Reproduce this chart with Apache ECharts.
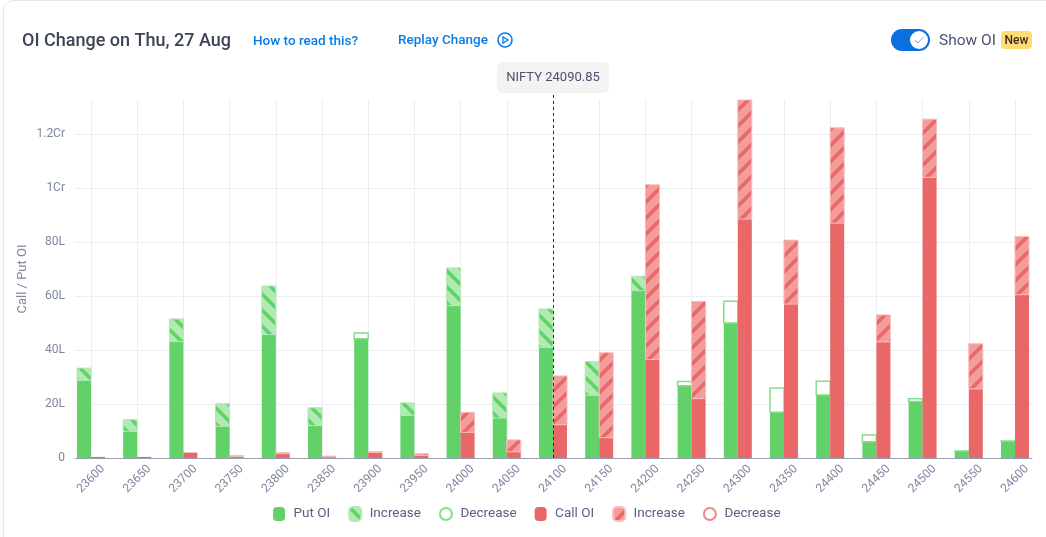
<!DOCTYPE html>
<html>
<head>
<meta charset="utf-8">
<script src="https://cdn.jsdelivr.net/npm/echarts@6/dist/echarts.min.js"></script>
<style>
html,body{margin:0;padding:0;background:#fff;overflow:hidden}
#card{position:absolute;left:3px;top:0;width:1100px;height:600px;border:1px solid #e3e6ec;border-radius:10px;box-sizing:border-box}
#chart{position:absolute;left:0;top:0;width:1046px;height:537px}
</style>
</head>
<body>
<div id="card"></div>
<div id="chart"></div>
<script>
// All values in lakh (L)
const strikes = [23600,23650,23700,23750,23800,23850,23900,23950,24000,24050,24100,24150,24200,24250,24300,24350,24400,24450,24500,24550,24600];
const putOI       = [28.8,9.9,43.1,11.7,45.7,12,44.2,15.8,56.4,14.8,41,23.2,62,26.8,50,16.9,23.3,6,20.9,2.5,6.2];
const putIncrease = [4.5,4.3,8.4,8.4,18,6.6,0,4.6,14,9.3,14.2,12.5,5.3,0,0,0,0,0,0,0,0];
const putDecrease = [0,0,0,0,0,0,2.1,0,0,0,0,0,0,1.5,8.1,9,5.1,2.5,1,0.1,0.1];
const callOI       = [0.4,0.4,2,0.5,1.6,0.4,2.1,1,9.5,2.3,12.3,7.5,36.5,22,88.5,57,87,43,104,25.6,60.5];
const callIncrease = [0,0,0,0.4,0.4,0.3,0.2,0.6,7.4,4.4,18.1,31.5,64.7,36,44.1,23.7,35.3,10,21.5,16.7,21.5];
const callDecrease = [0,0,0,0,0,0,0,0,0,0,0,0,0,0,0,0,0,0,0,0,0];
const yTicks = [0,20,40,60,80,100,120];
const spotLabel = 'NIFTY 24090.85';
const spotStrike = 24100;

const GREEN='#62d168', GREEN_L='#b2e9b4', RED='#e96767', RED_L='#f59c9c';
const TXT='#7f879e', FONT='Roboto', BAR=14;
const ROUND_ICON='path://M4,0H8A4,4,0,0,1,12,4V10A4,4,0,0,1,8,14H4A4,4,0,0,1,0,10V4A4,4,0,0,1,4,0Z';
const ZWS='\u200b';

function stripes(bg, fg, forward){
  const s=16, c=document.createElement('canvas');
  c.width=c.height=s;
  const g=c.getContext('2d');
  g.fillStyle=bg; g.fillRect(0,0,s,s);
  g.strokeStyle=fg; g.lineWidth=3.6;
  for(let o=-s;o<=s;o+=s){
    g.beginPath();
    if(forward){g.moveTo(o-2,s+2);g.lineTo(o+s+2,-2);}
    else{g.moveTo(o-2,-2);g.lineTo(o+s+2,s+2);}
    g.stroke();
  }
  return {image:c,repeat:'repeat'};
}

// Floating bar: [strike, low, high]; side -1 = left of the strike, 0 = right of it
function renderer(side){
  return function(params,api){
    const x=api.value(0), lo=api.value(1), hi=api.value(2);
    if(!(hi>lo)) return null;
    const a=api.coord([x,lo]), b=api.coord([x,hi]);
    const rect=echarts.graphic.clipRectByRect(
      {x:a[0]+side*BAR,y:b[1],width:BAR,height:a[1]-b[1]},
      {x:params.coordSys.x,y:params.coordSys.y,width:params.coordSys.width,height:params.coordSys.height});
    return rect&&{type:'rect',shape:rect,style:api.style()};
  };
}
function layer(name,side,low,delta,style){
  return {type:'custom',name,silent:true,renderItem:renderer(side),itemStyle:style,
    encode:{x:0,y:2},
    data:strikes.map((s,i)=>[s,low[i],low[i]+delta[i]])};
}
const zero=strikes.map(()=>0);
const series=[
  layer('Put OI',-1,zero,putOI,{color:GREEN}),
  layer('Increase',-1,putOI,putIncrease,{color:stripes(GREEN_L,GREEN,false),borderColor:GREEN_L,borderWidth:1}),
  layer('Decrease',-1,putOI,putDecrease,{color:'#fff',borderColor:'#86dc8a',borderWidth:1.5}),
  layer('Call OI',0,zero,callOI,{color:RED}),
  layer('Increase'+ZWS,0,callOI,callIncrease,{color:stripes(RED_L,RED,true),borderColor:'#f8bcbc',borderWidth:1}),
  layer('Decrease'+ZWS,0,callOI,callDecrease,{color:'#fff',borderColor:'#ee8a8a',borderWidth:1.5}),
  {type:'line',xAxisIndex:1,yAxisIndex:1,data:[],silent:true,z:10,
    markLine:{silent:true,symbol:'none',animation:false,
      lineStyle:{color:'#1e2a4a',type:[3,3],width:1},
      label:{position:'end',distance:0,formatter:spotLabel,color:'#4a5270',fontFamily:FONT,fontSize:13,letterSpacing:.6,
        backgroundColor:'#f3f3f4',borderRadius:5,padding:[9,9,9,9]},
      data:[{xAxis:spotStrike}]}}
];

const xMin=23582.7, xMax=24618.4;
const chart=echarts.init(document.getElementById('chart'),null,{renderer:'canvas'});
const text=(x,y,t,fs,col,w,align)=>({type:'text',x,y,silent:true,style:{text:t,fontFamily:FONT,fontSize:fs,fill:col,fontWeight:w||400,align:align||'left',verticalAlign:'middle'}});
chart.setOption({
  animation:false,
  backgroundColor:'transparent',
  textStyle:{fontFamily:FONT},
  grid:[{left:75,right:14,top:100,bottom:79},{left:75,right:14,top:93,bottom:79}],
  xAxis:[{
    type:'value',min:xMin,max:xMax,
    axisLine:{onZero:false,lineStyle:{color:'#9aa0b4',width:1}},
    axisTick:{show:false,customValues:strikes},
    axisLabel:{customValues:strikes,rotate:45,align:'center',verticalAlign:'middle',color:TXT,fontSize:12,fontFamily:FONT,margin:21,formatter:v=>String(v),hideOverlap:false,showMinLabel:true,showMaxLabel:true},
    splitLine:{show:true,lineStyle:{color:'#eceef3',width:1}}
  },{
    type:'value',gridIndex:1,min:xMin,max:xMax,show:false
  }],
  yAxis:[{
    type:'value',min:0,max:132.6,
    name:'Call / Put OI',nameLocation:'middle',nameGap:46,nameRotate:90,nameMoveOverlap:false,
    nameTextStyle:{color:TXT,fontSize:13,fontFamily:FONT},
    axisLine:{show:false},
    axisTick:{show:false,customValues:yTicks},
    axisLabel:{customValues:yTicks,color:TXT,fontSize:12,fontFamily:FONT,margin:10,padding:[2,0,0,0],
      formatter:v=>v>=100?(v/100)+'Cr':v===0?'0':v+'L'},
    splitLine:{show:true,lineStyle:{color:'#eceef3',width:1}}
  },{
    type:'value',gridIndex:1,min:0,max:135.2,show:false
  }],
  legend:{
    left:268,top:501,itemGap:18,itemWidth:12,itemHeight:14,selectedMode:false,
    textStyle:{color:'#5a6280',fontSize:13.5,fontFamily:FONT,padding:[0,0,0,3.5]},
    data:[
      {name:'Put OI',icon:ROUND_ICON},
      {name:'Increase',icon:ROUND_ICON},
      {name:'Decrease',icon:'circle'},
      {name:'Call OI',icon:ROUND_ICON},
      {name:'Increase'+ZWS,icon:ROUND_ICON},
      {name:'Decrease'+ZWS,icon:'circle'}
    ]
  },
  graphic:[
    text(22,41.5,'OI Change on Thu, 27 Aug',18,'#3d4457',500),
    text(253,42,'How to read this?',13.5,'#0b7be5',500),
    text(398,41,'Replay Change',13.5,'#0b7be5',500),
    {type:'circle',silent:true,shape:{cx:505,cy:40,r:7},style:{fill:'none',stroke:'#0b7be5',lineWidth:1.6}},
    {type:'polygon',silent:true,shape:{points:[[503,37],[503,43],[508,40]]},style:{fill:'none',stroke:'#0b7be5',lineWidth:1.3}},
    {type:'rect',silent:true,shape:{x:891,y:29,width:39,height:22,r:11},style:{fill:'#0a6fe0'}},
    {type:'circle',silent:true,shape:{cx:919,cy:40,r:9},style:{fill:'#fff'}},
    {type:'polyline',silent:true,shape:{points:[[915,40.5],[918,43],[923.5,37]]},style:{fill:'none',stroke:'#6da4e8',lineWidth:1}},
    text(939,41,'Show OI',15.5,'#4a5270',400),
    {type:'rect',silent:true,shape:{x:1001,y:31,width:31,height:18,r:4},style:{fill:'#ffdc73'}},
    text(1016.5,40.5,'New',12,'#3a3020',500,'center')
  ],
  series
});
</script>
</body>
</html>
